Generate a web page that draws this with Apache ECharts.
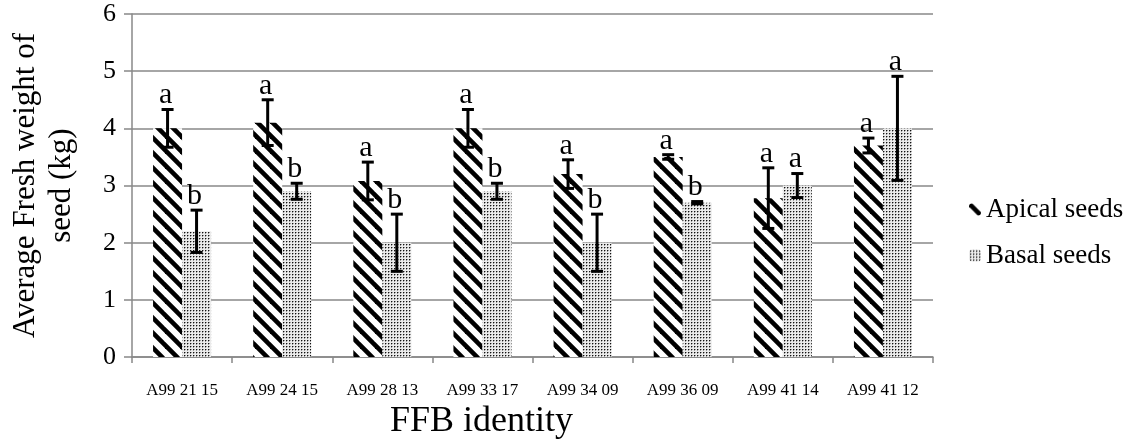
<!DOCTYPE html>
<html><head><meta charset="utf-8">
<script src="https://cdn.jsdelivr.net/npm/echarts@6/dist/echarts.min.js"></script>
<style>html,body{margin:0;padding:0;background:#fff}#c{width:1130px;height:445px}</style>
</head><body><div id="c"></div>
<script>
const categories = ['A99 21 15','A99 24 15','A99 28 13','A99 33 17','A99 34 09','A99 36 09','A99 41 14','A99 41 12'];
const apical = [4.0, 4.1, 3.08, 4.0, 3.2, 3.5, 2.78, 3.7];
const apicalErr = [0.33, 0.4, 0.33, 0.33, 0.25, 0.04, 0.53, 0.13];
const basal = [2.2, 2.9, 2.0, 2.9, 2.0, 2.7, 3.0, 4.0];
const basalErr = [0.37, 0.14, 0.5, 0.14, 0.5, 0.02, 0.21, 0.91];
const apicalLetters = ['a','a','a','a','a','a','a','a'];
const basalLetters = ['b','b','b','b','b','b','a','a'];
const seriesNames = ['Apical seeds','Basal seeds'];
const yAxisName = 'Average Fresh weight of\nseed (kg)';
const xAxisName = 'FFB identity';

const FONT = '"Liberation Serif", "Times New Roman", serif';
const BAR_W = 29;

function stripeTile(){
  const p = 15, c = document.createElement('canvas');
  c.width = p; c.height = p;
  const g = c.getContext('2d');
  g.fillStyle = '#fff'; g.fillRect(0,0,p,p);
  g.strokeStyle = '#000'; g.lineWidth = 4.6;
  for (let k = -1; k <= 1; k++) {
    g.beginPath(); g.moveTo(-3, k*p - 3); g.lineTo(p + 3, k*p + p + 3); g.stroke();
  }
  return c;
}
function dotTile(){
  const c = document.createElement('canvas');
  c.width = 3; c.height = 3;
  const g = c.getContext('2d');
  g.fillStyle = '#ebebeb'; g.fillRect(0,0,3,3);
  g.fillStyle = '#9a9a9a'; g.fillRect(2,1,1,1); g.fillRect(1,2,1,1);
  g.fillStyle = '#111'; g.fillRect(1,1,1,1);
  return c;
}

function errSeries(means, errs, letters, offset){
  return {
    type: 'custom', z: 10, silent: true,
    encode: {x: 0, y: 1},
    data: means.map((m, i) => [i, m, errs[i]]),
    renderItem(params, api){
      const i = api.value(0), m = api.value(1), e = api.value(2);
      const top = api.coord([i, m + e]), bot = api.coord([i, m - e]);
      const x = top[0] + offset, cw = 6;
      const st = {stroke: '#000', lineWidth: 3};
      return {type: 'group', children: [
        {type: 'line', shape: {x1: x, y1: top[1], x2: x, y2: bot[1]}, style: st},
        {type: 'line', shape: {x1: x - cw, y1: top[1], x2: x + cw, y2: top[1]}, style: st},
        {type: 'line', shape: {x1: x - cw, y1: bot[1], x2: x + cw, y2: bot[1]}, style: st},
        {type: 'text', x: x - 2, y: top[1] + 1, style: {text: letters[params.dataIndex], fill: '#000',
          font: '30px ' + FONT, align: 'center', verticalAlign: 'bottom'}}
      ]};
    }
  };
}

const chart = echarts.init(document.getElementById('c'), null, {renderer: 'canvas'});
chart.setOption({
  animation: false,
  backgroundColor: '#fff',
  grid: {left: 128, right: 197, top: 14, bottom: 82},
  legend: {
    orient: 'vertical', left: 964, top: 191, itemWidth: 12, itemHeight: 12, itemGap: 19,
    data: seriesNames,
    textStyle: {fontFamily: FONT, fontSize: 27, color: '#000'}
  },
  xAxis: {
    type: 'category', data: categories,
    axisLine: {lineStyle: {color: '#888', width: 1.5}},
    axisTick: {show: true, length: 6, lineStyle: {color: '#888', width: 1.5}},
    axisLabel: {fontFamily: FONT, fontSize: 17, color: '#000', margin: 25, interval: 0},
    name: xAxisName, nameLocation: 'middle', nameGap: 45,
    nameTextStyle: {fontFamily: FONT, fontSize: 36, color: '#000', padding: [0, 102, 0, 0]}
  },
  yAxis: {
    type: 'value', min: 0, max: 6, interval: 1,
    axisLine: {show: true, lineStyle: {color: '#888', width: 1.5}},
    axisTick: {show: true, length: 8, lineStyle: {color: '#888', width: 1.5}},
    splitLine: {lineStyle: {color: '#888', width: 1.5}},
    axisLabel: {fontFamily: FONT, fontSize: 26, color: '#000', margin: 16},
    name: yAxisName, nameLocation: 'middle', nameRotate: 90, nameGap: 52,
    nameTextStyle: {fontFamily: FONT, fontSize: 31, color: '#000', lineHeight: 36}
  },
  series: [
    {name: seriesNames[0], type: 'bar', data: apical, barWidth: BAR_W, barGap: '0%',
      itemStyle: {color: {image: stripeTile(), repeat: 'repeat'}}},
    {name: seriesNames[1], type: 'bar', data: basal, barWidth: BAR_W, barGap: '0%',
      itemStyle: {color: {image: dotTile(), repeat: 'repeat'}}},
    errSeries(apical, apicalErr, apicalLetters, -BAR_W / 2),
    errSeries(basal, basalErr, basalLetters, BAR_W / 2)
  ]
});
</script></body></html>
